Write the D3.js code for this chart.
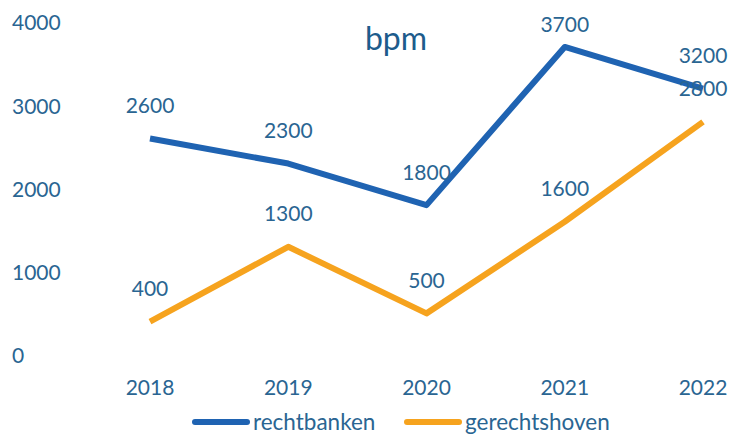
<!DOCTYPE html>
<html>
<head>
<meta charset="utf-8">
<script src="https://cdn.jsdelivr.net/npm/d3@7"></script>
<style>
  body { margin: 0; background: #fff; }
  svg { font-family: Lato, 'Open Sans', sans-serif; }
  text { fill: #2a6592; }
</style>
</head>
<body>
<svg width="733" height="437"></svg>
<script>
const years = ['2018', '2019', '2020', '2021', '2022']
const rechtbanken = [2600, 2300, 1800, 3700, 3200]
const gerechtshoven = [400, 1300, 500, 1600, 2800]
const yTicks = [0, 1000, 2000, 3000, 4000]

const series = [
  { name: 'rechtbanken', values: rechtbanken, color: '#1f63b2' },
  { name: 'gerechtshoven', values: gerechtshoven, color: '#f6a31e' }
]

const svg = d3.select('svg')

const x = d3.scalePoint()
  .domain(years)
  .range([150, 703])
const y = d3.scaleLinear()
  .domain([0, 4000])
  .range([355, 22])

// y axis labels, left aligned, no lines
svg.append('g')
  .selectAll('text')
  .data(yTicks)
  .join('text')
  .attr('x', 12)
  .attr('y', d => y(d) + 1)
  .attr('dy', '0.35em')
  .style('font-size', '21px')
  .text(d => d)

// x axis labels
svg.append('g')
  .selectAll('text')
  .data(years)
  .join('text')
  .attr('x', d => x(d))
  .attr('y', 388)
  .attr('dy', '0.35em')
  .attr('text-anchor', 'middle')
  .style('font-size', '21px')
  .text(d => d)

// title
svg.append('text')
  .attr('x', 396)
  .attr('y', 39)
  .attr('dy', '0.35em')
  .attr('text-anchor', 'middle')
  .style('font-size', '32px')
  .style('fill', '#1d5c8c')
  .text('bpm')

const line = d3.line()
  .x((d, i) => x(years[i]))
  .y(d => y(d))

series.forEach(s => {
  svg.append('path')
    .datum(s.values)
    .attr('d', line)
    .attr('fill', 'none')
    .attr('stroke', s.color)
    .attr('stroke-width', 6)
    .attr('stroke-linejoin', 'round')
})

// data labels (drawn after lines so they sit on top)
series.forEach(s => {
  svg.append('g')
    .selectAll('text')
    .data(s.values)
    .join('text')
    .attr('x', (d, i) => x(years[i]))
    .attr('y', d => Math.max(y(d) - 33, 25))
    .attr('dy', '0.35em')
    .attr('text-anchor', 'middle')
    .style('font-size', '21px')
    .text(d => d)
})

// legend
const legend = [
  { x: 195, s: series[0] },
  { x: 407, s: series[1] }
]
legend.forEach(l => {
  svg.append('line')
    .attr('x1', l.x).attr('x2', l.x + 52)
    .attr('y1', 422).attr('y2', 422)
    .attr('stroke', l.s.color)
    .attr('stroke-width', 6)
    .attr('stroke-linecap', 'round')
  svg.append('text')
    .attr('x', l.x + 58)
    .attr('y', 422)
    .attr('dy', '0.35em')
    .style('font-size', '22.5px')
    .text(l.s.name)
})
</script>
</body>
</html>
